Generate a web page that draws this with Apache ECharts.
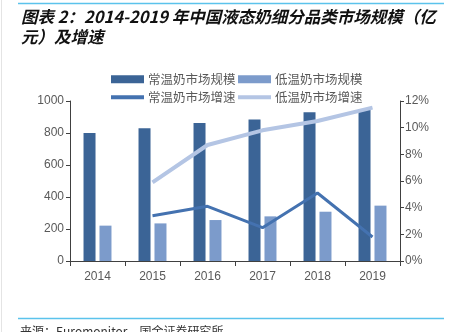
<!DOCTYPE html>
<html><head><meta charset="utf-8">
<script src="https://cdn.jsdelivr.net/npm/echarts@6/dist/echarts.min.js"></script>
<style>html,body{margin:0;padding:0;background:#fff}#c{width:454px;height:332px}</style>
</head><body><div id="c"></div>
<script>
var years = ['2014','2015','2016','2017','2018','2019'];
var ambientSize = [800, 829, 862, 885, 929, 948];
var chilledSize = [221, 235, 256, 279, 308, 346];
var ambientGrowth = [null, 3.4, 4.1, 2.5, 5.1, 1.8];
var chilledGrowth = [null, 5.9, 8.7, 9.8, 10.5, 11.5];
var leftTicks = [0, 200, 400, 600, 800, 1000];
var rightTicks = [0, 2, 4, 6, 8, 10, 12];
var names = ['常温奶市场规模','低温奶市场规模','常温奶市场增速','低温奶市场增速'];

var font = "'Noto Sans CJK SC', 'Noto Sans', sans-serif";
var chart = echarts.init(document.getElementById('c'), null, {renderer:'canvas'});
function lg(name, left, top, isLine){
  return {data:[name], left:left, top:top, itemWidth:33, itemHeight:isLine?4:8, itemGap:0,
    textStyle:{color:'#595959', fontSize:12.5, fontFamily:font, padding:[0,0,0,-1]},
    selectedMode:false, icon:'rect'};
}
chart.setOption({
  animation:false,
  textStyle:{fontFamily:font},
  grid:{left:70, right:54, top:101, bottom:71},
  legend:[lg(names[0],106,68,false), lg(names[1],233,68,false), lg(names[2],106,86,true), lg(names[3],233,86,true)],
  xAxis:{type:'category', data:years,
    axisLine:{lineStyle:{color:'#404040', width:1}},
    axisTick:{show:true, alignWithLabel:false, length:5, lineStyle:{color:'#404040'}},
    axisLabel:{color:'#595959', fontSize:12, margin:10, fontFamily:'Arial, Liberation Sans, sans-serif'}},
  yAxis:[
    {type:'value', min:leftTicks[0], max:leftTicks[leftTicks.length-1], interval:200,
     axisLine:{show:true, lineStyle:{color:'#404040'}},
     axisTick:{show:true, length:4, lineStyle:{color:'#404040'}},
     splitLine:{show:false},
     axisLabel:{color:'#595959', fontSize:12, margin:6, formatter:function(v){return String(v);}, fontFamily:'Arial, Liberation Sans, sans-serif'}},
    {type:'value', min:rightTicks[0], max:rightTicks[rightTicks.length-1], interval:2,
     axisLine:{show:true, lineStyle:{color:'#404040'}},
     axisTick:{show:true, length:4, lineStyle:{color:'#404040'}},
     splitLine:{show:false},
     axisLabel:{color:'#595959', fontSize:12, margin:5, formatter:'{value}%', fontFamily:'Arial, Liberation Sans, sans-serif'}}
  ],
  series:[
    {name:names[0], type:'bar', data:ambientSize, barWidth:12, barGap:'33%', itemStyle:{color:'#3B6496'}},
    {name:names[1], type:'bar', data:chilledSize, barWidth:12, barGap:'33%', itemStyle:{color:'#7C9BCB'}},
    {name:names[2], type:'line', yAxisIndex:1, data:ambientGrowth, symbol:'none', lineStyle:{color:'#4472B0', width:3}, itemStyle:{color:'#4472B0'}},
    {name:names[3], type:'line', yAxisIndex:1, data:chilledGrowth, symbol:'none', lineStyle:{color:'#B4C5E4', width:4}, itemStyle:{color:'#B4C5E4'}}
  ],
  graphic:[
    {type:'line', shape:{x1:18,y1:3.5,x2:444,y2:3.5}, style:{stroke:'#5BC3EC', lineWidth:1.5}},
    {type:'line', shape:{x1:1.5,y1:0,x2:1.5,y2:332}, style:{stroke:'#e4e4e4', lineWidth:1}},
    {type:'text', left:21, top:8, style:{text:'图表 2：2014-2019 年中国液态奶细分品类市场规模（亿', font:"italic bold 16.5px "+font, fill:'#111'}},
    {type:'text', left:21, top:28, style:{text:'元）及增速', font:"italic bold 16.5px "+font, fill:'#111'}},
    {type:'line', shape:{x1:18,y1:318.5,x2:444,y2:318.5}, style:{stroke:'#5BC3EC', lineWidth:1.5}},
    {type:'text', left:20, top:325, style:{text:'来源：Euromonitor，国金证券研究所', font:"12px "+font, fill:'#333'}}
  ]
});
</script></body></html>
